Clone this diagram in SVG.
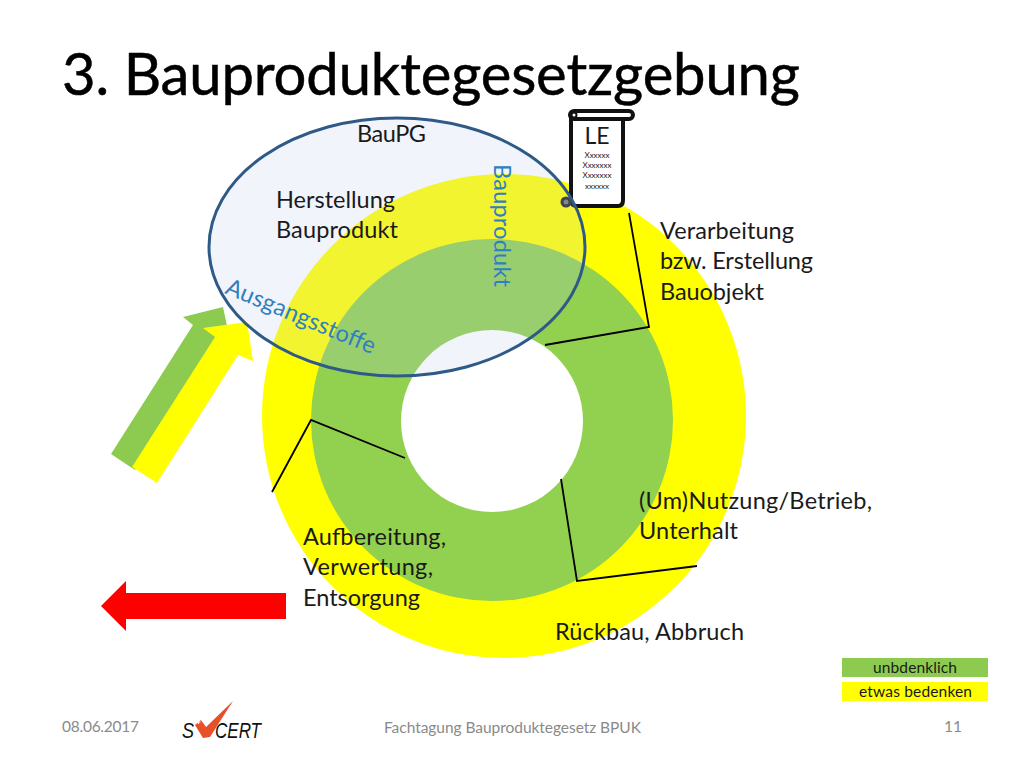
<svg xmlns="http://www.w3.org/2000/svg" width="1024" height="768" viewBox="0 0 1024 768">
<style>
text{font-family:"Lato","Carlito","Liberation Sans",sans-serif;fill:#1a1a1a}
.l{font-size:23.5px}
.b{font-size:23.5px;fill:#2e80c0}
.f{font-size:15.5px;fill:#8a8a8a}
.x{font-size:8px;text-anchor:middle;fill:#222}
.k{fill:none;stroke:#000;stroke-width:1.8}
.s{fill:#fff;stroke:#111;stroke-width:4;stroke-linejoin:round}
.g{font-family:"Liberation Sans",sans-serif;font-style:italic;font-size:22px;fill:#111}
</style>
<rect width="1024" height="768" fill="#fff"/>
<text x="62" y="95" textLength="738" style="font-size:58px;fill:#000;stroke:#000;stroke-width:.5">3. Bauproduktegesetzgebung</text>
<g id="ring-yellow"><circle cx="504" cy="416" r="242" fill="#ffff00"/></g>
<g id="ring-green"><circle cx="492" cy="420" r="181" fill="#92d050"/></g>
<g id="hole"><circle cx="492" cy="421" r="91" fill="#fff"/></g>
<g id="arrow-green"><polygon points="111,454 193,325 183,317 223,307 230,340 135,470" fill="#8ccb50"/></g>
<g id="arrow-yellow"><polygon points="132,467 157,483 238,355 253,361 247,322 203,328 215,337" fill="#ffff00"/></g>
<g id="arrow-red"><polygon points="286,593 126,593 126,581 101,606 126,631 126,619 286,619" fill="#ff0000"/></g>
<g id="LE">
<path class="s" d="M571,116 V200 Q571,206 577,206 H618 Q623,206 623,200 V116"/>
<rect class="s" x="570" y="111" width="63" height="8" rx="4"/>
<circle cx="566" cy="202" r="4" fill="#777" stroke="#222" stroke-width="3"/>
<circle cx="574" cy="115" r="2.500" fill="#fff" stroke="#111" stroke-width="2"/>
<text x="597" y="144" text-anchor="middle" style="font-size:23px">LE</text>
<text class="x" x="597" y="158">Xxxxxx</text>
<text class="x" x="597" y="168">Xxxxxxx</text>
<text class="x" x="597" y="178">Xxxxxxx</text>
<text class="x" x="597" y="189">xxxxxx</text>
</g>
<g id="bauPG"><ellipse cx="397" cy="247" rx="188" ry="129" fill="#b8c8e6" fill-opacity=".2" stroke="#2f5a88" stroke-width="3"/>
<text class="l" x="357" y="142" textLength="69">BauPG</text>
<text class="l" x="276" y="208" textLength="119">Herstellung</text>
<text class="l" x="276" y="238" textLength="122">Bauprodukt</text>
<text class="b" transform="translate(494,164) rotate(90)" textLength="123">Bauprodukt</text>
<text class="b" transform="translate(224,293) rotate(22.500)" textLength="160">Ausgangsstoffe</text></g>
<g id="connectors">
<polyline class="k" points="629,213 649,327 545,345"/>
<polyline class="k" points="272,492 311,420 405,458"/>
<polyline class="k" points="561,479 577,581 697,566"/>
</g>
<g id="labels">
<text class="l" x="660" y="239" textLength="134">Verarbeitung</text>
<text class="l" x="660" y="269" textLength="153">bzw. Erstellung</text>
<text class="l" x="660" y="300" textLength="104">Bauobjekt</text>
<text class="l" x="639" y="509" textLength="233">(Um)Nutzung/Betrieb,</text>
<text class="l" x="639" y="539" textLength="99">Unterhalt</text>
<text class="l" x="303" y="545" textLength="143">Aufbereitung,</text>
<text class="l" x="303" y="575" textLength="130">Verwertung,</text>
<text class="l" x="303" y="606" textLength="117">Entsorgung</text>
<text class="l" x="555" y="640" textLength="189">Rückbau, Abbruch</text>
</g>
<g id="legend">
<rect x="842" y="658" width="146" height="19" fill="#8ccb50"/>
<rect x="842" y="682" width="146" height="19" fill="#ffff00"/>
<text x="873" y="673" textLength="84" style="font-size:15.5px">unbdenklich</text>
<text x="859" y="697" textLength="113" style="font-size:15.5px">etwas bedenken</text>
</g>
<g id="footer">
<text class="f" x="62" y="732" textLength="77">08.06.2017</text>
<text class="f" x="384" y="733" textLength="257">Fachtagung Bauproduktegesetz BPUK</text>
<text class="f" x="962" y="732" text-anchor="end">11</text>
</g>
<g id="logo">
<text class="g" x="182" y="738" textLength="12" lengthAdjust="spacingAndGlyphs">S</text>
<text class="g" x="215" y="738" textLength="46" lengthAdjust="spacingAndGlyphs">CERT</text>
<polygon points="195,725 201,720 206,727 233,701 210,737 203,738" fill="#e8502a"/>
<path d="M196.500,722h4M198.500,720v4" stroke="#fff" stroke-width="1.200"/>
</g>
</svg>
